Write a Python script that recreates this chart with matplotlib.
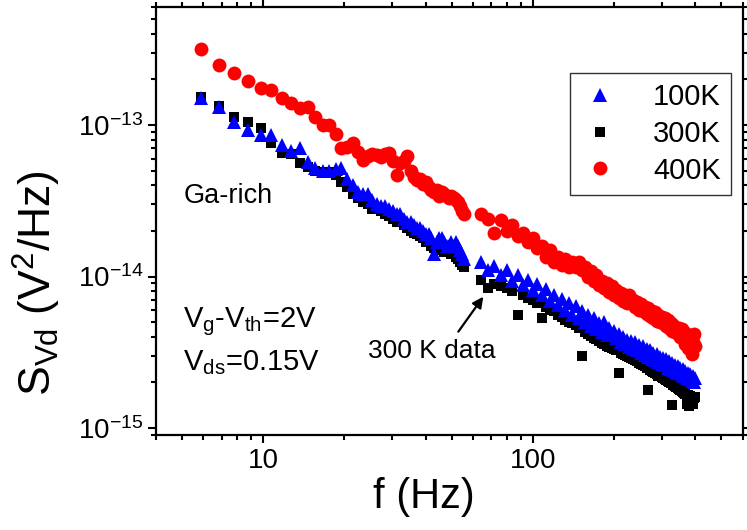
import matplotlib
matplotlib.use("Agg")
import matplotlib.pyplot as plt
from matplotlib.ticker import LogLocator, FixedLocator, NullFormatter, FuncFormatter
import numpy as np

plt.rcParams['font.family'] = ['Liberation Sans', 'DejaVu Sans']
plt.rcParams['mathtext.fontset'] = 'custom'
plt.rcParams['mathtext.rm'] = 'Liberation Sans'
plt.rcParams['mathtext.it'] = 'Liberation Sans:italic'

# ---- data (frequency in Hz, noise in units of 1e-15 V^2/Hz) ----
f_low = [5.86, 6.84, 7.81, 8.79, 9.77, 10.7, 11.7, 12.7, 13.7, 14.6, 15.6, 16.6, 17.6,
         18.6, 19.5, 20.5, 21.5, 22.5, 23.4, 24.4, 25.4, 26.4, 27.3, 28.3, 29.3, 30.3,
         31.3, 32.2, 33.2, 34.2, 35.2, 36.1, 37.1, 38.1, 39.1, 40.0, 41.0, 42.0, 43.0,
         43.9, 44.9, 45.9, 46.9, 47.9, 48.8, 49.8, 50.8, 51.8, 52.7, 53.7, 54.7, 55.7]
f_high = [64, 68, 72, 76, 80, 84, 88, 92, 96, 100, 104, 108, 112, 116, 120, 124, 128,
          132, 136, 140, 144, 148, 152, 156, 160, 164, 168, 172, 176, 180, 184, 188,
          192, 196, 200, 204, 208, 212, 216, 220, 224, 228, 232, 236, 240, 244, 248,
          252, 256, 260, 264, 268, 272, 276, 280, 284, 288, 292, 296, 300, 304, 308,
          312, 316, 320, 324, 328, 332, 336, 340, 344, 348, 352, 356, 360, 364, 368,
          372, 376, 380, 384, 388, 392, 396, 400]

s100_low = [150, 132, 105, 93, 86, 86, 74, 67, 70, 57, 52, 50, 50, 51, 52, 44, 40, 36,
            35, 35, 32, 30, 29, 29, 28, 27, 26, 26, 24, 23, 23, 22, 21, 21, 20, 19, 19,
            18, 14, 17, 18, 18, 17, 16, 16, 17, 16, 17, 16, 15, 14, 13]
s300_low = [152, 134, 112, 105, 95, 76, 65, 64, 56, 53, 50, 49, 49, 47, 42, 39, 35, 33,
            31, 30, 28, 28, 27, 26, 25, 24, 23, 23, 22, 21, 20, 19.5, 19, 18.5, 18, 17,
            17, 16, 15.5, 15, 15.5, 15, 14.5, 15, 14.5, 14, 14, 13.5, 13, 12.5, 12, 11.5]
s400_low = [316, 249, 219, 195, 174, 170, 151, 140, 130, 131, 112, 100, 100, 87, 70, 72,
            76, 66, 59, 62, 64, 63, 61, 64, 65, 58, 47, 56, 58, 62, 50, 45, 43, 44, 41,
            42, 39, 37, 36, 37, 34, 36, 35, 34, 33, 34, 33, 32, 31, 29, 27, 26]

s100_high = [12.5, 11.0, 11.8, 10.2, 11.0, 9.4, 10.2, 8.8, 9.5, 8.1,
             8.9, 7.5, 8.3, 6.9, 7.6, 6.5, 7.1, 6.0, 6.7, 5.6,
             6.4, 5.3, 5.9, 5.0, 5.6, 4.7, 5.3, 4.5, 4.9, 4.3,
             5.0, 4.1, 4.6, 4.2, 4.4, 3.9, 4.2, 3.7, 4.0, 3.6,
             3.8, 3.45, 3.75, 3.3, 3.7, 3.25, 3.55, 3.15, 3.5, 3.05,
             3.3, 2.95, 3.25, 2.85, 3.15, 2.8, 3.1, 2.72, 2.95, 2.66,
             2.9, 2.6, 2.85, 2.5, 2.75, 2.45, 2.7, 2.4, 2.6, 2.36,
             2.55, 2.3, 2.5, 2.25, 2.45, 2.2, 2.38, 2.15, 2.3, 2.1,
             2.28, 2.05, 2.2, 2.0, 2.15]
s300_high = [9.5, 8.4, 8.9, 8.6, 8.4, 8.0, 5.6, 7.5, 7.2, 7.0,
             6.7, 5.3, 6.3, 6.0, 5.9, 5.6, 5.4, 5.2, 5.0, 4.9,
             4.8, 4.6, 3.0, 4.3, 4.2, 4.05, 3.95, 3.85, 3.75, 3.65,
             3.6, 3.5, 3.45, 3.4, 3.3, 3.25, 2.3, 3.15, 3.1, 3.05,
             3.0, 2.95, 2.9, 2.85, 2.8, 2.75, 2.7, 2.65, 2.6, 2.55,
             2.5, 1.78, 2.42, 2.38, 2.33, 2.3, 2.26, 2.22, 2.19, 2.16,
             2.13, 2.1, 2.06, 2.03, 2.0, 1.97, 1.42, 1.93, 1.9, 1.87,
             1.84, 1.82, 1.79, 1.76, 1.73, 1.7, 1.68, 1.45, 1.66, 1.4,
             1.62, 1.55, 1.45, 1.58, 1.6]
s400_high = [26, 24, 19.5, 23.5, 20, 22, 18.5, 19.5, 17, 18,
             15.5, 16, 13.5, 15, 12.5, 13.5, 12, 13, 11.5, 12.5,
             11.5, 12.5, 11, 11.5, 10, 10.8, 9.4, 10.2, 8.8, 9.4,
             8.4, 9.0, 7.9, 8.6, 7.6, 8.2, 7.2, 7.8, 6.9, 7.6,
             6.7, 7.6, 6.9, 7.0, 6.3, 6.8, 6.0, 6.6, 5.9, 6.3,
             5.7, 6.2, 5.5, 5.9, 5.3, 5.8, 5.1, 5.6, 5.0, 5.4,
             4.9, 5.3, 4.7, 5.2, 4.6, 4.9, 4.4, 4.8, 4.3, 4.6,
             4.2, 4.6, 4.0, 4.5, 3.9, 4.3, 3.6, 4.2, 3.4, 3.9,
             3.3, 3.1, 3.7, 4.2, 3.5]

labels = ['100K', '300K', '400K']
unit = 1e-15

W, H = 747, 530
fig = plt.figure(figsize=(W / 100, H / 100), dpi=100)
L, R, T, B = 156, 742.7, 7, 435
ax = fig.add_axes([L / W, 1 - B / H, (R - L) / W, (B - T) / H])

f_all = f_low + f_high
y100 = [v * unit for v in s100_low + s100_high]
y300 = [v * unit for v in s300_low + s300_high]
y400 = [v * unit for v in s400_low + s400_high]

h300, = ax.plot(f_all, y300, ls='none', marker='s', ms=7.5, color='black', mew=0, zorder=2)
h100, = ax.plot(f_all, y100, ls='none', marker='^', ms=10, color='#0000ff', mew=0, zorder=3)
h400, = ax.plot(f_all, y400, ls='none', marker='o', ms=10, color='#ff0000', mew=0, zorder=4)

ax.set_xscale('log')
ax.set_yscale('log')
ax.set_xlim(4, 600)
ax.set_ylim(9e-16, 6e-13)

ax.xaxis.set_major_locator(FixedLocator([10, 100]))
ax.xaxis.set_minor_locator(LogLocator(base=10, subs=np.arange(2, 10), numticks=20))
ax.xaxis.set_minor_formatter(NullFormatter())
ax.xaxis.set_major_formatter(FuncFormatter(lambda v, p: '%d' % round(v)))
ax.yaxis.set_major_locator(FixedLocator([1e-15, 1e-14, 1e-13]))
ax.yaxis.set_minor_locator(LogLocator(base=10, subs=np.arange(2, 10), numticks=20))
ax.yaxis.set_minor_formatter(NullFormatter())
ax.yaxis.set_major_formatter(FuncFormatter(
    lambda v, p: r'$\mathregular{10^{%d}}$' % round(np.log10(v))))

for s in ax.spines.values():
    s.set_linewidth(1.6)
ax.tick_params(which='both', direction='out', width=1.5, top=True, right=True,
               labeltop=False, labelright=False, labelsize=20, pad=3)
ax.tick_params(which='major', length=6)
ax.tick_params(which='minor', length=3.5)

fig.text(424 / W, 1 - 497 / H, 'f (Hz)', fontsize=30, ha='center', va='center')
fig.text(37 / W, 1 - 283 / H, r'S$_\mathregular{Vd}$ (V$^\mathregular{2}$/Hz)',
         fontsize=32, rotation=90, ha='center', va='center')

fig.text(184 / W, 1 - 203 / H, 'Ga-rich', fontsize=19.5, ha='left', va='baseline')
fig.text(183 / W, 1 - 327 / H, r'V$_\mathregular{g}$-V$_\mathregular{th}$=2V',
         fontsize=21, ha='left', va='baseline')
fig.text(183 / W, 1 - 370 / H, r'V$_\mathregular{ds}$=0.15V',
         fontsize=21, ha='left', va='baseline')
fig.text(368 / W, 1 - 358 / H, '300 K data', fontsize=19, ha='left', va='baseline')
ax.annotate('', xy=(483.3 / W, 1 - 296.7 / H), xycoords='figure fraction',
            xytext=(458.3 / W, 1 - 331.7 / H), textcoords='figure fraction',
            arrowprops=dict(arrowstyle='-|>', color='black', lw=1.6,
                            mutation_scale=16, shrinkA=0, shrinkB=0))

leg = ax.legend([h100, h300, h400], labels, loc='upper right',
                bbox_to_anchor=((731 - L) / (R - L), (B - 73) / (B - T)),
                fontsize=21, frameon=True, fancybox=False, edgecolor='black',
                handlelength=1.4, handletextpad=1.1, borderpad=0.35,
                labelspacing=0.3, borderaxespad=0)
leg.get_frame().set_linewidth(1.0)

fig.savefig('out.png', dpi=100)
